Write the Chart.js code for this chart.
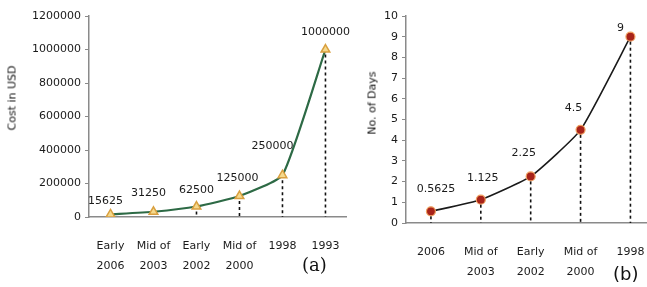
<!DOCTYPE html>
<html><head><meta charset="utf-8">
<script src="https://cdn.jsdelivr.net/npm/chart.js@4.4.1/dist/chart.umd.min.js"></script>
<style>
html,body{margin:0;padding:0;background:#fff;overflow:hidden;width:647px;height:287px;}
#ca{position:absolute;left:0;top:0;}
#cb{position:absolute;left:355px;top:0;}
.yt{position:absolute;font:11px "DejaVu Sans",sans-serif;color:#111;white-space:nowrap;transform:translate(-50%,-50%) rotate(-90deg);}
.tag{position:absolute;color:#111;white-space:nowrap;}
</style></head><body>
<canvas id="ca" width="360" height="287"></canvas>
<canvas id="cb" width="310" height="287"></canvas>
<div class="yt" style="left:12px;top:98px">Cost in USD</div>
<div class="yt" style="left:372px;top:103px">No. of Days</div>
<div class="tag" style="left:302px;top:254px;font:18px 'DejaVu Serif',serif">(a)</div>
<div class="tag" style="left:613px;top:263px;font:18px 'DejaVu Sans',sans-serif">(b)</div>
<script>
// ---- data ----
const costLabels = [["Early","2006"],["Mid of","2003"],["Early","2002"],["Mid of","2000"],"1998","1993"];
const costValues = [15625, 31250, 62500, 125000, 250000, 1000000];
const costText   = ["15625","31250","62500","125000","250000","1000000"];
const costMax = 1200000, costStep = 200000;

const dayLabels = ["2006",["Mid of","2003"],["Early","2002"],["Mid of","2000"],"1998"];
const dayValues = [0.5625, 1.125, 2.25, 4.5, 9];
const dayText   = ["0.5625","1.125","2.25","4.5","9"];
const dayMax = 10, dayStep = 1;

const FONT = {family:"DejaVu Sans", size:11};

const extras = {
  id:'extras',
  afterDatasetsDraw(chart, args, opts){
    const ctx = chart.ctx;
    const meta = chart.getDatasetMeta(0);
    const yBase = chart.scales.y.getPixelForValue(0);
    ctx.save();
    ctx.strokeStyle = '#111';
    ctx.lineWidth = 1.6;
    ctx.setLineDash([3,3]);
    meta.data.forEach((p,i)=>{
      if (yBase - p.y < opts.gap + 2) return;
      ctx.beginPath();
      ctx.moveTo(p.x, p.y + opts.gap);
      ctx.lineTo(p.x, yBase);
      ctx.stroke();
    });
    ctx.setLineDash([]);
    ctx.font = '11px "DejaVu Sans"';
    ctx.fillStyle = '#1a1a1a';
    ctx.textAlign = 'center';
    ctx.textBaseline = 'middle';
    meta.data.forEach((p,i)=>{
      const o = opts.offsets[i];
      ctx.fillText(opts.text[i], p.x + o[0], p.y + o[1]);
    });
    ctx.restore();
  }
};

function common(yMax, step, xH, yW, topPad){
  return {
    responsive:false, animation:false, devicePixelRatio:1,
    layout:{padding:{top:topPad,left:0,right:0,bottom:0}},
    plugins:{legend:{display:false}, tooltip:{enabled:false}},
    scales:{
      x:{
        offset:true,
        grid:{display:false, drawTicks:false},
        border:{display:true, color:'#8a8a8a', width:1.5},
        ticks:{font:Object.assign({lineHeight:1.75},FONT), color:'#1a1a1a', padding:20, maxRotation:0, autoSkip:false},
        afterFit(s){ s.height = xH; }
      },
      y:{
        min:0, max:yMax,
        grid:{display:true, drawOnChartArea:false, drawTicks:true, tickLength:4, color:'#8a8a8a'},
        border:{display:true, color:'#8a8a8a', width:1.5},
        ticks:{font:FONT, color:'#1a1a1a', padding:4, stepSize:step, autoSkip:false, callback:v=>String(v)},
        afterFit(s){ s.width = yW; }
      }
    }
  };
}

const optA = common(costMax, costStep, 70, 89, 16);
optA.plugins.extras = {
  text: costText, gap: 5,
  offsets: [[-5,-13],[-5,-19],[0,-16],[-2,-18],[-10,-29],[0,-17]]
};
new Chart(document.getElementById('ca'), {
  type:'line',
  data:{labels:costLabels, datasets:[{
    data:costValues,
    borderColor:'#2d6a45', borderWidth:2.2, tension:0.15,
    pointStyle:'triangle', pointRadius:5,
    pointBackgroundColor:'#f5d98c', pointBorderColor:'#d9a040', pointBorderWidth:1.5
  }]},
  options:optA,
  plugins:[extras]
});

const optB = common(dayMax, dayStep, 64, 51, 16);
optB.plugins.extras = {
  text: dayText, gap: 5,
  offsets: [[5,-22],[2,-22],[-7,-23],[-7,-22],[-10,-9]]
};
new Chart(document.getElementById('cb'), {
  type:'line',
  data:{labels:dayLabels, datasets:[{
    data:dayValues,
    borderColor:'#1a1a1a', borderWidth:1.6, tension:0.15,
    pointStyle:'circle', pointRadius:4.5,
    pointBackgroundColor:'#a8231a', pointBorderColor:'#f0a060', pointBorderWidth:1.2
  }]},
  options:optB,
  plugins:[extras]
});
</script>
</body></html>
